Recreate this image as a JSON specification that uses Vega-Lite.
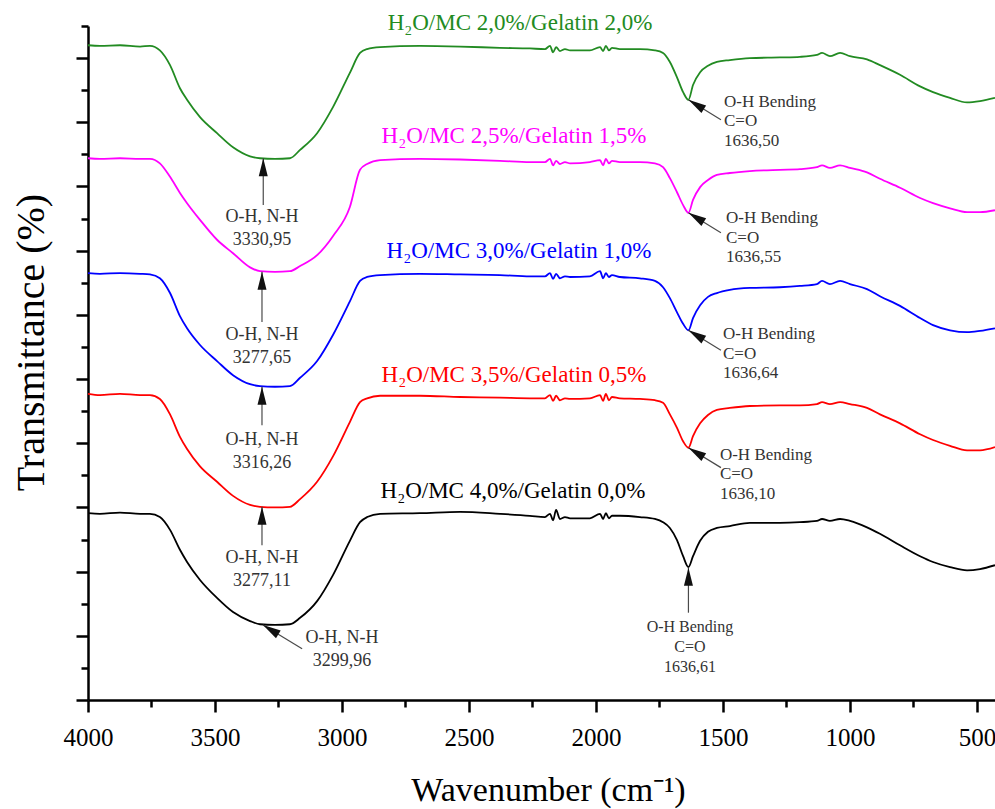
{
  "$schema": "https://vega.github.io/schema/vega-lite/v6.json",
  "width": 907,
  "height": 674,
  "autosize": {"type": "none"},
  "padding": {"left": 88, "top": 26, "right": 0, "bottom": 109},
  "background": "white",
  "config": {"view": {"stroke": null}, "font": "Liberation Serif"},
  "datasets": {
    "spectra": [
      {"s":"g","w":4000,"t":102.0},{"s":"g","w":3953,"t":101.9},{"s":"g","w":3874,"t":102.0},{"s":"g","w":3795,"t":101.8},{"s":"g","w":3756,"t":101.9},{"s":"g","w":3717,"t":101.2},{"s":"g","w":3677,"t":98.9},{"s":"g","w":3638,"t":95.3},{"s":"g","w":3610,"t":93.5},{"s":"g","w":3559,"t":90.8},{"s":"g","w":3492,"t":88.3},{"s":"g","w":3429,"t":86.1},{"s":"g","w":3362,"t":84.7},{"s":"g","w":3323,"t":84.4},{"s":"g","w":3264,"t":84.3},{"s":"g","w":3205,"t":84.4},{"s":"g","w":3165,"t":85.7},{"s":"g","w":3098,"t":88.3},{"s":"g","w":3035,"t":92.4},{"s":"g","w":2969,"t":97.7},{"s":"g","w":2929,"t":100.8},{"s":"g","w":2901,"t":101.4},{"s":"g","w":2850,"t":101.7},{"s":"g","w":2693,"t":101.9},{"s":"g","w":2535,"t":101.8},{"s":"g","w":2378,"t":101.6},{"s":"g","w":2260,"t":101.5},{"s":"g","w":2201,"t":101.4},{"s":"g","w":2181,"t":101.9},{"s":"g","w":2169,"t":100.9},{"s":"g","w":2157,"t":101.7},{"s":"g","w":2142,"t":101.1},{"s":"g","w":2122,"t":101.4},{"s":"g","w":2102,"t":101.2},{"s":"g","w":2024,"t":101.2},{"s":"g","w":1984,"t":101.7},{"s":"g","w":1972,"t":101.1},{"s":"g","w":1961,"t":101.9},{"s":"g","w":1949,"t":101.2},{"s":"g","w":1937,"t":101.6},{"s":"g","w":1906,"t":101.4},{"s":"g","w":1827,"t":101.4},{"s":"g","w":1768,"t":101.2},{"s":"g","w":1736,"t":100.8},{"s":"g","w":1709,"t":99.4},{"s":"g","w":1681,"t":97.0},{"s":"g","w":1657,"t":94.7},{"s":"g","w":1636,"t":93.5},{"s":"g","w":1618,"t":95.8},{"s":"g","w":1590,"t":97.8},{"s":"g","w":1559,"t":98.8},{"s":"g","w":1524,"t":99.4},{"s":"g","w":1473,"t":99.7},{"s":"g","w":1394,"t":100.0},{"s":"g","w":1276,"t":100.1},{"s":"g","w":1197,"t":100.2},{"s":"g","w":1130,"t":100.5},{"s":"g","w":1110,"t":100.8},{"s":"g","w":1079,"t":100.3},{"s":"g","w":1039,"t":100.8},{"s":"g","w":1000,"t":100.3},{"s":"g","w":933,"t":99.8},{"s":"g","w":882,"t":98.9},{"s":"g","w":803,"t":97.4},{"s":"g","w":724,"t":95.6},{"s":"g","w":673,"t":94.7},{"s":"g","w":606,"t":93.8},{"s":"g","w":539,"t":93.1},{"s":"g","w":488,"t":93.3},{"s":"g","w":429,"t":93.8},

      {"s":"m","w":4000,"t":84.4},{"s":"m","w":3953,"t":84.3},{"s":"m","w":3874,"t":84.4},{"s":"m","w":3795,"t":84.3},{"s":"m","w":3756,"t":84.3},{"s":"m","w":3717,"t":83.6},{"s":"m","w":3677,"t":81.5},{"s":"m","w":3638,"t":79.0},{"s":"m","w":3610,"t":77.4},{"s":"m","w":3559,"t":74.8},{"s":"m","w":3492,"t":71.7},{"s":"m","w":3429,"t":69.6},{"s":"m","w":3362,"t":67.4},{"s":"m","w":3323,"t":66.8},{"s":"m","w":3264,"t":66.7},{"s":"m","w":3205,"t":66.8},{"s":"m","w":3165,"t":67.6},{"s":"m","w":3098,"t":69.3},{"s":"m","w":3035,"t":72.3},{"s":"m","w":2969,"t":76.8},{"s":"m","w":2929,"t":82.6},{"s":"m","w":2901,"t":83.5},{"s":"m","w":2850,"t":84.1},{"s":"m","w":2693,"t":84.3},{"s":"m","w":2535,"t":84.2},{"s":"m","w":2378,"t":84.0},{"s":"m","w":2260,"t":83.8},{"s":"m","w":2201,"t":83.8},{"s":"m","w":2181,"t":84.3},{"s":"m","w":2169,"t":83.3},{"s":"m","w":2157,"t":84.0},{"s":"m","w":2142,"t":83.5},{"s":"m","w":2122,"t":83.8},{"s":"m","w":2102,"t":83.6},{"s":"m","w":2024,"t":83.8},{"s":"m","w":1984,"t":84.1},{"s":"m","w":1972,"t":83.3},{"s":"m","w":1961,"t":84.3},{"s":"m","w":1949,"t":83.6},{"s":"m","w":1937,"t":84.0},{"s":"m","w":1906,"t":83.8},{"s":"m","w":1827,"t":83.8},{"s":"m","w":1768,"t":83.6},{"s":"m","w":1736,"t":83.0},{"s":"m","w":1709,"t":81.3},{"s":"m","w":1681,"t":79.1},{"s":"m","w":1657,"t":77.1},{"s":"m","w":1636,"t":75.9},{"s":"m","w":1618,"t":77.9},{"s":"m","w":1590,"t":79.9},{"s":"m","w":1559,"t":81.0},{"s":"m","w":1524,"t":81.8},{"s":"m","w":1473,"t":82.1},{"s":"m","w":1394,"t":82.4},{"s":"m","w":1276,"t":82.6},{"s":"m","w":1197,"t":82.7},{"s":"m","w":1130,"t":83.0},{"s":"m","w":1110,"t":83.3},{"s":"m","w":1079,"t":82.9},{"s":"m","w":1039,"t":83.3},{"s":"m","w":1000,"t":82.9},{"s":"m","w":933,"t":82.2},{"s":"m","w":882,"t":81.2},{"s":"m","w":803,"t":79.8},{"s":"m","w":724,"t":78.2},{"s":"m","w":673,"t":77.4},{"s":"m","w":606,"t":76.6},{"s":"m","w":539,"t":76.0},{"s":"m","w":488,"t":76.0},{"s":"m","w":429,"t":76.3},

      {"s":"b","w":4000,"t":66.5},{"s":"b","w":3953,"t":66.4},{"s":"b","w":3874,"t":66.5},{"s":"b","w":3795,"t":66.4},{"s":"b","w":3756,"t":66.3},{"s":"b","w":3717,"t":65.7},{"s":"b","w":3677,"t":63.4},{"s":"b","w":3638,"t":59.8},{"s":"b","w":3610,"t":57.9},{"s":"b","w":3559,"t":55.3},{"s":"b","w":3492,"t":52.8},{"s":"b","w":3429,"t":50.6},{"s":"b","w":3362,"t":49.2},{"s":"b","w":3323,"t":48.9},{"s":"b","w":3264,"t":48.8},{"s":"b","w":3205,"t":48.9},{"s":"b","w":3165,"t":50.2},{"s":"b","w":3098,"t":52.8},{"s":"b","w":3035,"t":56.9},{"s":"b","w":2969,"t":62.1},{"s":"b","w":2929,"t":65.3},{"s":"b","w":2901,"t":65.9},{"s":"b","w":2850,"t":66.2},{"s":"b","w":2693,"t":66.4},{"s":"b","w":2535,"t":66.3},{"s":"b","w":2378,"t":66.2},{"s":"b","w":2260,"t":66.0},{"s":"b","w":2201,"t":66.0},{"s":"b","w":2181,"t":66.5},{"s":"b","w":2169,"t":65.6},{"s":"b","w":2157,"t":66.4},{"s":"b","w":2142,"t":65.7},{"s":"b","w":2122,"t":66.0},{"s":"b","w":2102,"t":65.9},{"s":"b","w":2024,"t":66.0},{"s":"b","w":1984,"t":66.8},{"s":"b","w":1972,"t":65.7},{"s":"b","w":1961,"t":66.5},{"s":"b","w":1949,"t":65.9},{"s":"b","w":1937,"t":66.2},{"s":"b","w":1906,"t":65.9},{"s":"b","w":1827,"t":65.7},{"s":"b","w":1768,"t":65.3},{"s":"b","w":1736,"t":64.3},{"s":"b","w":1709,"t":62.6},{"s":"b","w":1681,"t":60.4},{"s":"b","w":1657,"t":58.6},{"s":"b","w":1636,"t":57.6},{"s":"b","w":1618,"t":59.5},{"s":"b","w":1590,"t":61.5},{"s":"b","w":1559,"t":62.8},{"s":"b","w":1524,"t":63.4},{"s":"b","w":1473,"t":63.9},{"s":"b","w":1394,"t":64.2},{"s":"b","w":1276,"t":64.3},{"s":"b","w":1197,"t":64.5},{"s":"b","w":1130,"t":64.8},{"s":"b","w":1110,"t":65.3},{"s":"b","w":1079,"t":64.8},{"s":"b","w":1039,"t":65.3},{"s":"b","w":1000,"t":64.8},{"s":"b","w":933,"t":64.0},{"s":"b","w":882,"t":62.9},{"s":"b","w":803,"t":61.4},{"s":"b","w":724,"t":59.5},{"s":"b","w":673,"t":58.4},{"s":"b","w":606,"t":57.6},{"s":"b","w":539,"t":57.3},{"s":"b","w":488,"t":57.5},{"s":"b","w":429,"t":57.9},

      {"s":"r","w":4000,"t":47.7},{"s":"r","w":3953,"t":47.5},{"s":"r","w":3874,"t":47.7},{"s":"r","w":3795,"t":47.5},{"s":"r","w":3756,"t":47.5},{"s":"r","w":3717,"t":46.9},{"s":"r","w":3677,"t":44.5},{"s":"r","w":3638,"t":41.0},{"s":"r","w":3610,"t":39.1},{"s":"r","w":3559,"t":36.4},{"s":"r","w":3492,"t":34.0},{"s":"r","w":3429,"t":31.8},{"s":"r","w":3362,"t":30.4},{"s":"r","w":3323,"t":30.1},{"s":"r","w":3264,"t":30.0},{"s":"r","w":3205,"t":30.1},{"s":"r","w":3165,"t":31.3},{"s":"r","w":3098,"t":34.0},{"s":"r","w":3035,"t":38.0},{"s":"r","w":2969,"t":43.3},{"s":"r","w":2929,"t":46.4},{"s":"r","w":2901,"t":47.0},{"s":"r","w":2850,"t":47.4},{"s":"r","w":2693,"t":47.4},{"s":"r","w":2535,"t":47.2},{"s":"r","w":2378,"t":47.1},{"s":"r","w":2260,"t":47.0},{"s":"r","w":2201,"t":47.0},{"s":"r","w":2181,"t":47.5},{"s":"r","w":2169,"t":46.6},{"s":"r","w":2157,"t":47.4},{"s":"r","w":2142,"t":46.7},{"s":"r","w":2122,"t":47.0},{"s":"r","w":2102,"t":46.9},{"s":"r","w":2024,"t":47.0},{"s":"r","w":1984,"t":47.5},{"s":"r","w":1972,"t":46.6},{"s":"r","w":1961,"t":47.7},{"s":"r","w":1949,"t":46.7},{"s":"r","w":1937,"t":47.2},{"s":"r","w":1906,"t":47.0},{"s":"r","w":1827,"t":46.9},{"s":"r","w":1768,"t":46.7},{"s":"r","w":1736,"t":46.3},{"s":"r","w":1709,"t":44.5},{"s":"r","w":1681,"t":42.4},{"s":"r","w":1657,"t":40.3},{"s":"r","w":1636,"t":39.3},{"s":"r","w":1618,"t":41.1},{"s":"r","w":1590,"t":43.1},{"s":"r","w":1559,"t":44.4},{"s":"r","w":1524,"t":45.2},{"s":"r","w":1473,"t":45.5},{"s":"r","w":1394,"t":45.8},{"s":"r","w":1276,"t":45.9},{"s":"r","w":1197,"t":45.9},{"s":"r","w":1130,"t":46.1},{"s":"r","w":1110,"t":46.4},{"s":"r","w":1079,"t":46.1},{"s":"r","w":1039,"t":46.4},{"s":"r","w":1000,"t":46.1},{"s":"r","w":933,"t":45.5},{"s":"r","w":882,"t":44.5},{"s":"r","w":803,"t":43.1},{"s":"r","w":724,"t":41.4},{"s":"r","w":673,"t":40.5},{"s":"r","w":606,"t":39.6},{"s":"r","w":539,"t":38.9},{"s":"r","w":488,"t":38.9},{"s":"r","w":429,"t":39.4},

      {"s":"k","w":4000,"t":29.1},{"s":"k","w":3953,"t":29.0},{"s":"k","w":3874,"t":29.2},{"s":"k","w":3795,"t":29.0},{"s":"k","w":3756,"t":29.0},{"s":"k","w":3717,"t":28.5},{"s":"k","w":3677,"t":26.5},{"s":"k","w":3638,"t":23.4},{"s":"k","w":3610,"t":21.5},{"s":"k","w":3559,"t":18.7},{"s":"k","w":3492,"t":15.9},{"s":"k","w":3429,"t":13.7},{"s":"k","w":3362,"t":12.3},{"s":"k","w":3323,"t":11.8},{"s":"k","w":3264,"t":11.7},{"s":"k","w":3205,"t":11.8},{"s":"k","w":3165,"t":12.8},{"s":"k","w":3098,"t":15.4},{"s":"k","w":3035,"t":19.5},{"s":"k","w":2969,"t":24.8},{"s":"k","w":2929,"t":27.7},{"s":"k","w":2901,"t":28.5},{"s":"k","w":2850,"t":29.0},{"s":"k","w":2693,"t":29.1},{"s":"k","w":2535,"t":29.3},{"s":"k","w":2378,"t":29.0},{"s":"k","w":2260,"t":28.7},{"s":"k","w":2201,"t":28.5},{"s":"k","w":2181,"t":29.0},{"s":"k","w":2169,"t":28.0},{"s":"k","w":2157,"t":29.6},{"s":"k","w":2142,"t":28.2},{"s":"k","w":2122,"t":28.5},{"s":"k","w":2102,"t":28.3},{"s":"k","w":2024,"t":28.3},{"s":"k","w":1984,"t":29.0},{"s":"k","w":1972,"t":28.2},{"s":"k","w":1961,"t":29.1},{"s":"k","w":1949,"t":28.3},{"s":"k","w":1937,"t":28.7},{"s":"k","w":1906,"t":28.7},{"s":"k","w":1827,"t":28.5},{"s":"k","w":1768,"t":28.2},{"s":"k","w":1736,"t":27.7},{"s":"k","w":1709,"t":26.8},{"s":"k","w":1681,"t":24.9},{"s":"k","w":1657,"t":22.4},{"s":"k","w":1636,"t":20.7},{"s":"k","w":1618,"t":22.4},{"s":"k","w":1590,"t":24.8},{"s":"k","w":1559,"t":26.2},{"s":"k","w":1524,"t":26.8},{"s":"k","w":1473,"t":27.1},{"s":"k","w":1394,"t":27.6},{"s":"k","w":1276,"t":27.6},{"s":"k","w":1197,"t":27.7},{"s":"k","w":1130,"t":27.9},{"s":"k","w":1110,"t":28.2},{"s":"k","w":1079,"t":27.9},{"s":"k","w":1039,"t":28.2},{"s":"k","w":1000,"t":27.9},{"s":"k","w":933,"t":26.9},{"s":"k","w":882,"t":25.9},{"s":"k","w":803,"t":24.1},{"s":"k","w":724,"t":22.4},{"s":"k","w":673,"t":21.5},{"s":"k","w":606,"t":20.7},{"s":"k","w":539,"t":20.2},{"s":"k","w":488,"t":20.4},{"s":"k","w":429,"t":21.0}
    ],
    "series": [
      {"s":"g","w":2299,"t":104.4,"label":"H₂O/MC 2,0%/Gelatin 2,0%"},
      {"s":"m","w":2323,"t":86.8,"label":"H₂O/MC 2,5%/Gelatin 1,5%"},
      {"s":"b","w":2303,"t":68.8,"label":"H₂O/MC 3,0%/Gelatin 1,0%"},
      {"s":"r","w":2323,"t":49.5,"label":"H₂O/MC 3,5%/Gelatin 0,5%"},
      {"s":"k","w":2327,"t":31.5,"label":"H₂O/MC 4,0%/Gelatin 0,0%"}
    ],
    "arrows": [
      {"w":3310,"t":84.4,"w2":3310,"t2":77.1},
      {"w":3315,"t":66.7,"w2":3315,"t2":58.9},
      {"w":3315,"t":48.8,"w2":3315,"t2":42.8},
      {"w":3315,"t":30.1,"w2":3315,"t2":24.1},
      {"w":3311,"t":11.7,"w2":3157,"t2":8.0},
      {"w":1636,"t":93.5,"w2":1508,"t2":90.4},
      {"w":1636,"t":75.9,"w2":1508,"t2":72.8},
      {"w":1636,"t":57.6,"w2":1508,"t2":54.5},
      {"w":1636,"t":39.3,"w2":1508,"t2":36.2},
      {"w":1636,"t":20.6,"w2":1636,"t2":13.6}
    ],
    "headsUp": [
      {"w":3310,"t":84.4},
      {"w":3315,"t":66.7},
      {"w":3315,"t":48.8},
      {"w":3315,"t":30.1},
      {"w":1636,"t":20.6}
    ],
    "headsDiag": [
      {"w":3311,"t":11.7},
      {"w":1636,"t":93.5},
      {"w":1636,"t":75.9},
      {"w":1636,"t":57.6},
      {"w":1636,"t":39.3}
    ],
    "broad": [
      {"w":3315,"t":74.5,"label":"O-H, N-H\n3330,95"},
      {"w":3315,"t":56.1,"label":"O-H, N-H\n3277,65"},
      {"w":3315,"t":39.7,"label":"O-H, N-H\n3316,26"},
      {"w":3315,"t":21.3,"label":"O-H, N-H\n3277,11"},
      {"w":3000,"t":8.9,"label":"O-H, N-H\n3299,96"}
    ],
    "bend": [
      {"w":1496,"t":92.4,"label":"O-H Bending\nC=O\n1636,50"},
      {"w":1488,"t":74.3,"label":"O-H Bending\nC=O\n1636,55"},
      {"w":1500,"t":56.2,"label":"O-H Bending\nC=O\n1636,64"},
      {"w":1512,"t":37.4,"label":"O-H Bending\nC=O\n1636,10"}
    ],
    "bendC": [
      {"w":1630,"t":10.6,"label":"O-H Bending\nC=O\n1636,61"}
    ]
  },
  "layer": [
    {
      "data": {"name": "spectra"},
      "mark": {"type": "line", "strokeWidth": 1.8, "clip": true, "interpolate": "monotone"},
      "encoding": {
        "x": {"field": "w", "type": "quantitative",
          "scale": {"domain": [4000, 429], "nice": false, "zero": false},
          "axis": {"orient": "bottom", "values": [4000,3500,3000,2500,2000,1500,1000,500], "format": "d", "tickSize": 12, "tickWidth": 2.5, "tickColor": "#000", "domainColor": "#000", "domainWidth": 2.5, "labelFont": "Liberation Serif", "labelFontSize": 25, "labelColor": "#000", "labelPadding": 13, "labelFlush": false, "labelOverlap": false, "grid": false, "title": "Wavenumber (cm⁻¹)", "titleFont": "Liberation Serif", "titleFontSize": 34, "titleFontWeight": "normal", "titleColor": "#000", "titlePadding": 23, "titleX": 460}},
        "y": {"field": "t", "type": "quantitative",
          "scale": {"domain": [0, 105], "nice": false, "zero": false},
          "axis": {"orient": "left", "values": [0,10,20,30,40,50,60,70,80,90,100], "tickSize": 12, "tickWidth": 2.5, "tickColor": "#000", "domainColor": "#000", "domainWidth": 2.5, "labels": false, "grid": false, "title": "Transmittance (%)", "titleFont": "Liberation Serif", "titleFontSize": 40, "titleFontWeight": "normal", "titleColor": "#000", "titlePadding": 23, "titleY": 316}},
        "color": {"field": "s", "type": "nominal", "scale": {"domain": ["g","m","b","r","k"], "range": ["#228b22","#ff00ff","#0000ff","#ff0000","#000000"]}, "legend": null}
      }
    },
    {
      "data": {"name": "headsUp"},
      "mark": {"type": "point", "opacity": 0},
      "encoding": {
        "x": {"field": "w", "type": "quantitative", "scale": {"domain": [4000, 429], "nice": false, "zero": false},
          "axis": {"orient": "bottom", "values": [3750,3250,2750,2250,1750,1250,750], "tickSize": 7, "tickWidth": 2.5, "tickColor": "#000", "labels": false, "domain": false, "grid": false, "title": null}},
        "y": {"field": "t", "type": "quantitative", "scale": {"domain": [0, 105], "nice": false, "zero": false},
          "axis": {"orient": "left", "values": [5,15,25,35,45,55,65,75,85,95,105], "tickSize": 7, "tickWidth": 2.5, "tickColor": "#000", "labels": false, "domain": false, "grid": false, "title": null}}
      }
    },
    {
      "data": {"name": "arrows"},
      "mark": {"type": "rule", "color": "#4a4a4a", "strokeWidth": 1.2},
      "encoding": {
        "x": {"field": "w", "type": "quantitative", "scale": {"domain": [4000, 429], "nice": false, "zero": false}, "axis": null},
        "y": {"field": "t", "type": "quantitative", "scale": {"domain": [0, 105], "nice": false, "zero": false}, "axis": null},
        "x2": {"field": "w2"},
        "y2": {"field": "t2"}
      }
    },
    {
      "data": {"name": "headsUp"},
      "mark": {"type": "point", "shape": "M0,0L0.5,2L-0.5,2Z", "size": 324, "filled": true, "color": "#111111", "opacity": 1, "strokeWidth": 0},
      "encoding": {
        "x": {"field": "w", "type": "quantitative", "scale": {"domain": [4000, 429], "nice": false, "zero": false}, "axis": null},
        "y": {"field": "t", "type": "quantitative", "scale": {"domain": [0, 105], "nice": false, "zero": false}, "axis": null}
      }
    },
    {
      "data": {"name": "headsDiag"},
      "mark": {"type": "point", "shape": "M0,0L0.5,2L-0.5,2Z", "size": 324, "angle": 301.5, "filled": true, "color": "#111111", "opacity": 1, "strokeWidth": 0},
      "encoding": {
        "x": {"field": "w", "type": "quantitative", "scale": {"domain": [4000, 429], "nice": false, "zero": false}, "axis": null},
        "y": {"field": "t", "type": "quantitative", "scale": {"domain": [0, 105], "nice": false, "zero": false}, "axis": null}
      }
    },
    {
      "data": {"name": "broad"},
      "mark": {"type": "text", "align": "center", "baseline": "alphabetic", "font": "Liberation Serif", "fontSize": 18, "lineBreak": "\n", "lineHeight": 23, "color": "#333333"},
      "encoding": {
        "x": {"field": "w", "type": "quantitative", "scale": {"domain": [4000, 429], "nice": false, "zero": false}, "axis": null},
        "y": {"field": "t", "type": "quantitative", "scale": {"domain": [0, 105], "nice": false, "zero": false}, "axis": null},
        "text": {"field": "label"}
      }
    },
    {
      "data": {"name": "bend"},
      "mark": {"type": "text", "align": "left", "baseline": "alphabetic", "font": "Liberation Serif", "fontSize": 17, "lineBreak": "\n", "lineHeight": 19.5, "color": "#333333"},
      "encoding": {
        "x": {"field": "w", "type": "quantitative", "scale": {"domain": [4000, 429], "nice": false, "zero": false}, "axis": null},
        "y": {"field": "t", "type": "quantitative", "scale": {"domain": [0, 105], "nice": false, "zero": false}, "axis": null},
        "text": {"field": "label"}
      }
    },
    {
      "data": {"name": "bendC"},
      "mark": {"type": "text", "align": "center", "baseline": "alphabetic", "font": "Liberation Serif", "fontSize": 16, "lineBreak": "\n", "lineHeight": 20, "color": "#333333"},
      "encoding": {
        "x": {"field": "w", "type": "quantitative", "scale": {"domain": [4000, 429], "nice": false, "zero": false}, "axis": null},
        "y": {"field": "t", "type": "quantitative", "scale": {"domain": [0, 105], "nice": false, "zero": false}, "axis": null},
        "text": {"field": "label"}
      }
    },
    {
      "data": {"name": "series"},
      "mark": {"type": "text", "align": "center", "baseline": "alphabetic", "font": "Liberation Serif", "fontSize": 23},
      "encoding": {
        "x": {"field": "w", "type": "quantitative", "scale": {"domain": [4000, 429], "nice": false, "zero": false}, "axis": null},
        "y": {"field": "t", "type": "quantitative", "scale": {"domain": [0, 105], "nice": false, "zero": false}, "axis": null},
        "text": {"field": "label"},
        "color": {"field": "s", "type": "nominal", "scale": {"domain": ["g","m","b","r","k"], "range": ["#228b22","#ff00ff","#0000ff","#ff0000","#000000"]}, "legend": null}
      }
    }
  ],
  "resolve": {"axis": {"x": "independent", "y": "independent"}}
}
